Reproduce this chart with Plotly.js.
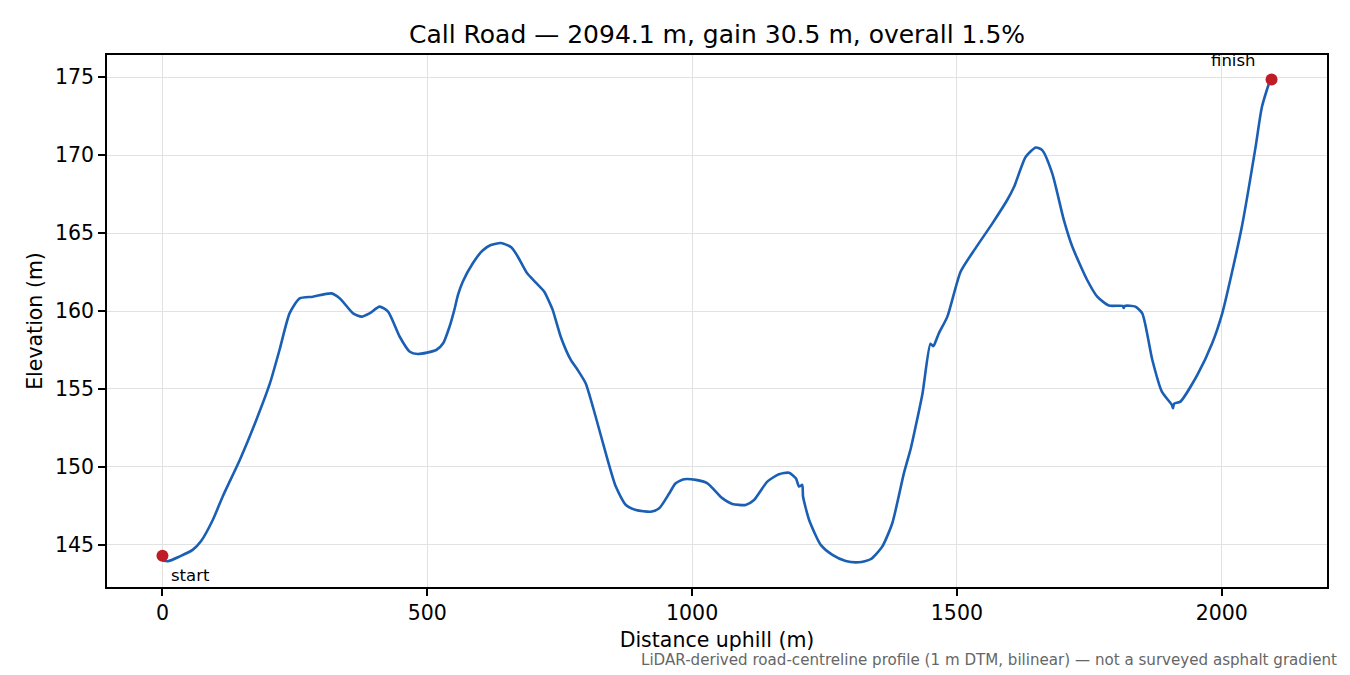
<!DOCTYPE html>
<html>
<head>
<meta charset="utf-8">
<script src="https://cdn.plot.ly/plotly-3.0.1.min.js"></script>
<style>
  html, body { margin:0; padding:0; background:#fff; }
  #profile { width:1350px; height:675px; }
</style>
</head>
<body>
<div id="profile"></div>
<script>
// Profile samples (distance along road, elevation)
const dist = [0, 10, 32, 57, 73, 95, 115, 146, 177, 203, 221, 240, 259, 284, 319, 335, 360, 376, 391, 410, 426, 448, 467, 482, 517, 530, 542, 551, 558, 567, 586, 604, 620, 639, 658, 670, 689, 705, 721, 733, 737, 752, 771, 784, 799, 818, 837, 856, 875, 894, 922, 938, 957, 969, 985, 1007, 1029, 1057, 1076, 1101, 1117, 1142, 1164, 1183, 1196, 1202, 1208, 1209.5, 1221, 1243, 1265, 1290, 1315, 1337, 1359, 1378, 1400, 1413, 1422, 1435, 1450, 1455, 1457, 1466, 1482, 1507, 1535, 1567, 1595, 1608, 1630, 1649, 1661, 1680, 1702, 1718, 1746, 1765, 1787, 1813, 1815, 1817, 1837, 1850, 1869, 1887, 1906, 1908, 1910, 1922, 1954, 1982, 2001, 2019, 2038, 2064, 2076, 2092, 2094.1];
const elev = [144.0, 143.95, 144.25, 144.68, 145.25, 146.6, 148.2, 150.45, 153.0, 155.37, 157.5, 159.85, 160.81, 160.92, 161.13, 160.81, 159.85, 159.64, 159.85, 160.28, 159.96, 158.35, 157.39, 157.24, 157.5, 157.93, 158.99, 160.06, 161.03, 161.88, 163.06, 163.87, 164.23, 164.36, 164.1, 163.55, 162.4, 161.82, 161.24, 160.38, 160.06, 158.35, 156.86, 156.22, 155.37, 153.22, 150.88, 148.74, 147.56, 147.24, 147.13, 147.35, 148.31, 148.95, 149.21, 149.17, 148.95, 148.0, 147.63, 147.56, 147.88, 149.06, 149.53, 149.63, 149.27, 148.74, 148.85, 148.1, 146.6, 145.0, 144.36, 143.97, 143.89, 144.08, 144.89, 146.39, 149.6, 151.2, 152.58, 154.7, 157.9, 157.75, 157.82, 158.57, 159.64, 162.52, 164.02, 165.62, 167.12, 167.97, 169.89, 170.49, 170.32, 168.83, 165.83, 164.12, 161.99, 160.92, 160.35, 160.33, 160.2, 160.33, 160.28, 159.85, 156.86, 154.83, 153.97, 153.76, 154.05, 154.19, 155.9, 157.93, 159.85, 162.42, 165.4, 170.53, 173.1, 174.81, 174.85];
const endDist = [0, 2094.1];
const endElev = [144.3, 174.85];
const endLabels = ["start", "finish"];

const C_LINE = "#1a5fb4";
const C_DOT = "#c01c28";
const FONT = "DejaVu Sans";

const profile = {
  x: dist, y: elev, type: "scatter", mode: "lines",
  line: { color: C_LINE, width: 2.6, shape: "spline", smoothing: 0.6 }, hoverinfo: "x+y"
};
const ends = {
  x: endDist, y: endElev, type: "scatter", mode: "markers",
  marker: { color: C_DOT, size: 12 }, hoverinfo: "x+y"
};

const axisCommon = {
  showline: true, mirror: true, linecolor: "#000", linewidth: 1.7,
  ticks: "outside", ticklen: 7, tickwidth: 1.7, tickcolor: "#000",
  showgrid: true, gridcolor: "#e2e2e2", gridwidth: 1.4,
  zeroline: false, tickfont: { family: FONT, size: 20.5, color: "#000" }
};

const layout = {
  width: 1350, height: 675,
  margin: { l: 107, r: 23, t: 55, b: 88 },
  paper_bgcolor: "#fff", plot_bgcolor: "#fff",
  showlegend: false,
  font: { family: FONT, color: "#000" },
  title: {
    text: "Call Road — 2094.1 m, gain 30.5 m, overall 1.5%",
    font: { family: FONT, size: 25, color: "#000" },
    x: 0.5, xref: "paper", y: 0.95, yref: "container", yanchor: "middle"
  },
  xaxis: Object.assign({}, axisCommon, {
    range: [-104.7, 2198.8], tickvals: [0, 500, 1000, 1500, 2000],
    title: { text: "Distance uphill (m)", font: { family: FONT, size: 20.5 }, standoff: 8 }
  }),
  yaxis: Object.assign({}, axisCommon, {
    range: [142.3, 176.42], tickvals: [145, 150, 155, 160, 165, 170, 175],
    title: { text: "Elevation (m)", font: { family: FONT, size: 20.5 }, standoff: 7 }
  }),
  annotations: [
    { x: endDist[0], y: endElev[0], xref: "x", yref: "y", text: endLabels[0],
      showarrow: false, xanchor: "left", yanchor: "top", xshift: 7, yshift: -8,
      font: { family: FONT, size: 16.5, color: "#000" } },
    { x: endDist[1], y: endElev[1], xref: "x", yref: "y", text: endLabels[1],
      showarrow: false, xanchor: "right", yanchor: "bottom", xshift: -14, yshift: 7,
      font: { family: FONT, size: 16.5, color: "#000" } },
    { x: 1.0098, y: -0.137, xref: "paper", yref: "paper",
      text: "LiDAR-derived road-centreline profile (1 m DTM, bilinear) — not a surveyed asphalt gradient",
      showarrow: false, xanchor: "right", yanchor: "middle",
      font: { family: FONT, size: 15.1, color: "#666" } }
  ]
};

Plotly.newPlot("profile", [profile, ends], layout, { displayModeBar: false, responsive: false });
</script>
</body>
</html>
